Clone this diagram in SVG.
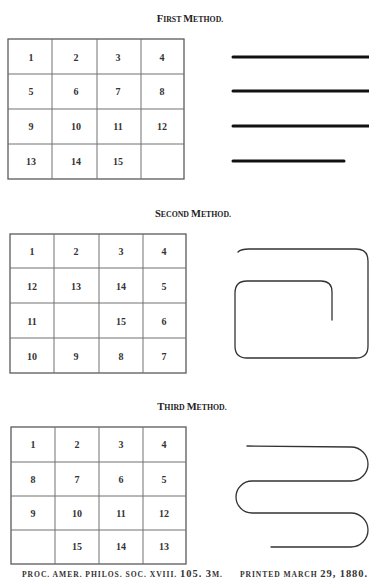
<svg xmlns="http://www.w3.org/2000/svg" width="369" height="580" viewBox="0 0 369 580">
<style>
.bg{fill:#fff}
.grid{stroke:#707070;stroke-width:1;fill:none}
.outer{stroke:#5a5a5a;stroke-width:1.3;fill:none}
.num{font-family:"Liberation Serif","DejaVu Serif",serif;font-weight:bold;font-size:10px;fill:#333;text-anchor:middle}
.title{font-family:"Liberation Serif","DejaVu Serif",serif;font-weight:bold;fill:#222;text-anchor:middle}
.cap{font-size:10.5px}
.sm{font-size:7.8px}
.thick{stroke:#111;stroke-width:3;fill:none;stroke-linecap:round}
.thin{stroke:#333;stroke-width:1.3;fill:none;stroke-linecap:round}
.foot{font-family:"Liberation Serif","DejaVu Serif",serif;font-weight:bold;fill:#333}
</style>
<rect class="bg" x="0" y="0" width="369" height="580"/>

<g id="title1">
<text class="title" x="190" y="22"><tspan class="cap">F</tspan><tspan class="sm">IRST </tspan><tspan class="cap">M</tspan><tspan class="sm">ETHOD.</tspan></text>
</g>
<g id="grid1">
<rect class="outer" x="8" y="39" width="176" height="140"/>
<path class="grid" d="M52,39V179M97,39V179M141,39V179M8,74H184M8,109H184M8,144H184"/>
<text class="num" x="31" y="60.5">1</text><text class="num" x="76" y="60.5">2</text><text class="num" x="118" y="60.5">3</text><text class="num" x="162" y="60.5">4</text>
<text class="num" x="31" y="94.5">5</text><text class="num" x="76" y="94.5">6</text><text class="num" x="118" y="94.5">7</text><text class="num" x="162" y="94.5">8</text>
<text class="num" x="31" y="129.5">9</text><text class="num" x="76" y="129.5">10</text><text class="num" x="118" y="129.5">11</text><text class="num" x="162" y="129.5">12</text>
<text class="num" x="31" y="164.5">13</text><text class="num" x="76" y="164.5">14</text><text class="num" x="118" y="164.5">15</text>
</g>
<g id="lines1">
<path class="thick" d="M233,57H369M233,91H369M233,126H369M233,161H344"/>
</g>

<g id="title2">
<text class="title" x="193" y="217"><tspan class="cap">S</tspan><tspan class="sm">ECOND </tspan><tspan class="cap">M</tspan><tspan class="sm">ETHOD.</tspan></text>
</g>
<g id="grid2">
<rect class="outer" x="10" y="234" width="176" height="139"/>
<path class="grid" d="M54,234V373M99,234V373M143,234V373M10,268H186M10,303H186M10,338H186"/>
<text class="num" x="32" y="254.5">1</text><text class="num" x="76" y="254.5">2</text><text class="num" x="121" y="254.5">3</text><text class="num" x="164" y="254.5">4</text>
<text class="num" x="32" y="289.5">12</text><text class="num" x="76" y="289.5">13</text><text class="num" x="121" y="289.5">14</text><text class="num" x="164" y="289.5">5</text>
<text class="num" x="32" y="324.5">11</text><text class="num" x="121" y="324.5">15</text><text class="num" x="164" y="324.5">6</text>
<text class="num" x="32" y="359.5">10</text><text class="num" x="76" y="359.5">9</text><text class="num" x="121" y="359.5">8</text><text class="num" x="164" y="359.5">7</text>
</g>
<g id="spiral2">
<path class="thin" d="M238,252Q241,249 249,249L356,249Q368,249 368,261L368,346Q368,358 356,358L247,358Q235,358 235,346L235,293Q235,281 247,281L321,281Q332,281 332,292L332,320"/>
</g>

<g id="title3">
<text class="title" x="192" y="410"><tspan class="cap">T</tspan><tspan class="sm">HIRD </tspan><tspan class="cap">M</tspan><tspan class="sm">ETHOD.</tspan></text>
</g>
<g id="grid3">
<rect class="outer" x="11" y="427" width="175" height="137"/>
<path class="grid" d="M55,427V564M99,427V564M143,427V564M11,462H186M11,496H186M11,530H186"/>
<text class="num" x="33" y="447.5">1</text><text class="num" x="77" y="447.5">2</text><text class="num" x="121" y="447.5">3</text><text class="num" x="164" y="447.5">4</text>
<text class="num" x="33" y="482.5">8</text><text class="num" x="77" y="482.5">7</text><text class="num" x="121" y="482.5">6</text><text class="num" x="164" y="482.5">5</text>
<text class="num" x="33" y="516.5">9</text><text class="num" x="77" y="516.5">10</text><text class="num" x="121" y="516.5">11</text><text class="num" x="164" y="516.5">12</text>
<text class="num" x="77" y="549.5">15</text><text class="num" x="121" y="549.5">14</text><text class="num" x="164" y="549.5">13</text>
</g>
<g id="serpentine3">
<path class="thin" d="M247,446L351,447A17,17 0 0 1 351,481L252,481A16,16 0 0 0 252,513L351,513A17,17 0 0 1 351,547L271,547"/>
</g>

<g id="footer">
<text class="foot" x="22" y="577" textLength="200" lengthAdjust="spacing"><tspan font-size="7.6">PROC. AMER. PHILOS. SOC. XVIII. </tspan><tspan font-size="10.5">105. 3</tspan><tspan font-size="7.6">M.</tspan></text>
<text class="foot" x="240" y="577" textLength="127" lengthAdjust="spacing"><tspan font-size="7.6">PRINTED MARCH </tspan><tspan font-size="10.5">29, 1880.</tspan></text>
</g>
</svg>
